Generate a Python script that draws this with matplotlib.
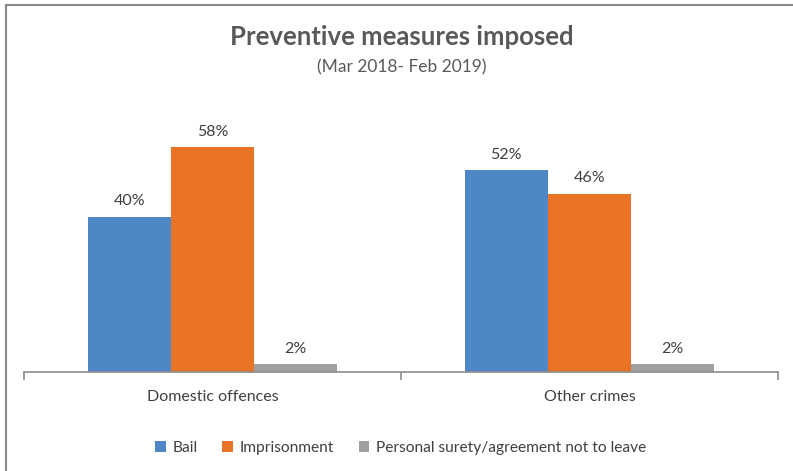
import numpy as np
import matplotlib.pyplot as plt
from matplotlib.lines import Line2D

plt.rcParams['font.family'] = ['Lato', 'DejaVu Sans']

categories = ['Domestic offences', 'Other crimes']
series = ['Bail', 'Imprisonment', 'Personal surety/agreement not to leave']
bail = [40, 52]
imprisonment = [58, 46]
surety = [2, 2]
colors = ['#4E86C6', '#E97325', '#A0A0A0']

fig = plt.figure(figsize=(7.93, 4.71), dpi=100)
ax = fig.add_axes([24 / 793, 1 - 372 / 471, (778 - 24) / 793, 0.576])

x = np.arange(len(categories))
w = 0.221
for i, (vals, name) in enumerate(zip([bail, imprisonment, surety], series)):
    bars = ax.bar(x + (i - 1) * w, vals, w, color=colors[i], label=name)
    for b, v in zip(bars, vals):
        ax.text(b.get_x() + b.get_width() / 2, v + 2.2, f'{v}%',
                ha='center', va='bottom', fontsize=11.5, color='#404040')

ax.set_xlim(-0.5, 1.5)
ax.set_ylim(0, 70)
for s in ['top', 'right', 'left']:
    ax.spines[s].set_visible(False)
ax.spines['bottom'].set_color('#8C8C8C')
ax.spines['bottom'].set_linewidth(1.2)
ax.set_yticks([])
ax.set_xticks(x)
ax.set_xticklabels(categories, fontsize=11.5, color='#404040')
ax.tick_params(axis='x', which='major', length=0, pad=13)
ax.set_xticks([-0.5, 0.5, 1.5], minor=True)
ax.tick_params(axis='x', which='minor', length=6, width=1.2, color='#8C8C8C')

fig.text(0.507, 1 - 37 / 471, 'Preventive measures imposed', ha='center', va='center',
         fontsize=18.5, fontweight='bold', color='#595959')
fig.text(0.507, 1 - 67 / 471, '(Mar 2018- Feb 2019)', ha='center', va='center',
         fontsize=12.5, color='#595959')

handles, labels = ax.get_legend_handles_labels()
fig.legend(handles, labels, loc='center', bbox_to_anchor=(0.505, 1 - 448 / 471), ncol=3,
           frameon=False, fontsize=11.2, handlelength=0.7, handleheight=0.7,
           handletextpad=0.4, columnspacing=1.6, labelcolor='#404040')

# outer chart border (top and left edges)
fig.add_artist(Line2D([6 / 793, 1], [1 - 5 / 471, 1 - 5 / 471], transform=fig.transFigure,
                      color='#8A8A8A', lw=1.5))
fig.add_artist(Line2D([6 / 793, 6 / 793], [0, 1 - 5 / 471], transform=fig.transFigure,
                      color='#8A8A8A', lw=1.5))

fig.savefig('out.png', dpi=100)
